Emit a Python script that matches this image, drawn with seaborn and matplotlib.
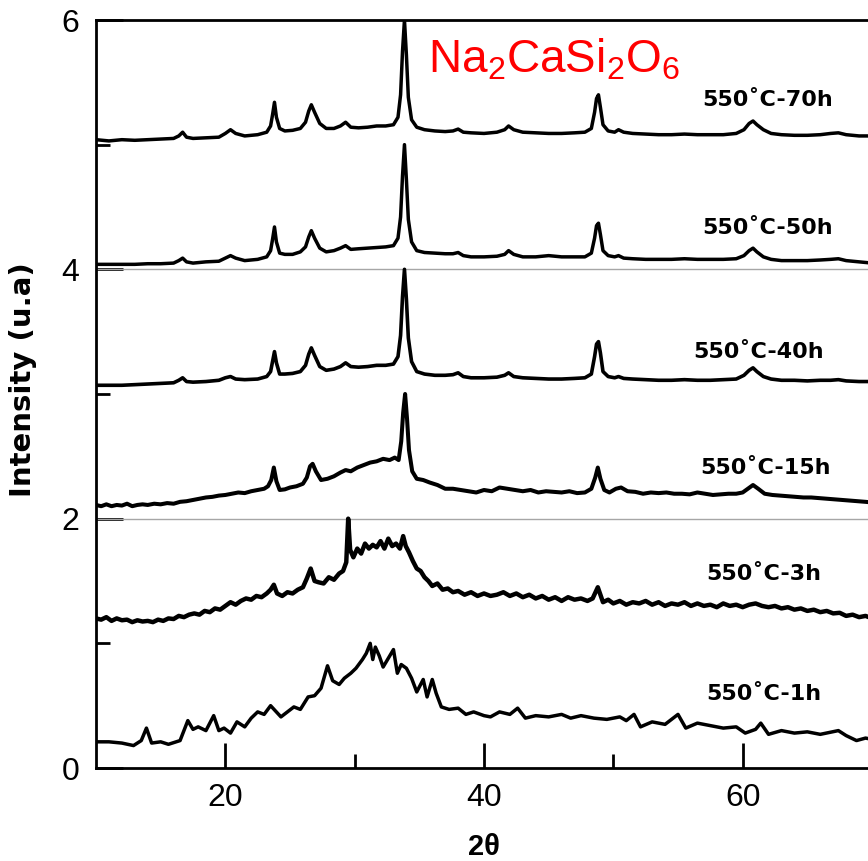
import numpy as np
import pandas as pd
import matplotlib
matplotlib.use("Agg")
import matplotlib.pyplot as plt
import seaborn as sns

# ---------------- data ----------------
samples = ["550˚C-70h", "550˚C-50h", "550˚C-40h", "550˚C-15h", "550˚C-3h", "550˚C-1h"]

# shared 2-theta grid for the three well-crystallised patterns
x_cryst = [10, 11, 12, 13, 14, 15, 16, 16.4, 16.7, 17.0,
           17.5, 18.5, 19.5, 20.0, 20.4, 20.8, 21.5, 22.5, 23.2, 23.5,
           23.65, 23.8, 23.95, 24.2, 24.6, 25.2, 25.8, 26.2, 26.45, 26.65,
           26.9, 27.3, 27.8, 28.4, 28.9, 29.3, 29.7, 30.3, 31.0, 31.7,
           32.4, 33.0, 33.35, 33.55, 33.7, 33.85, 34.0, 34.15, 34.4, 34.8,
           35.4, 36.2, 37.0, 37.6, 38.0, 38.4, 39.0, 40.0, 41.0, 41.6,
           41.9, 42.3, 43.0, 44.0, 45.0, 46.0, 47.0, 47.8, 48.3, 48.55,
           48.7, 48.85, 49.0, 49.2, 49.6, 50.1, 50.4, 50.8, 51.5, 52.5,
           53.5, 54.5, 55.5, 56.5, 57.5, 58.5, 59.5, 60.1, 60.5, 60.8,
           61.1, 61.6, 62.2, 63.0, 64.0, 65.0, 66.0, 66.8, 67.4, 68.0,
           69.0, 70.0]

y_70h = [5.04, 5.03, 5.04, 5.035, 5.04, 5.045, 5.05, 5.07, 5.10, 5.06,
         5.05, 5.055, 5.06, 5.09, 5.12, 5.09, 5.07, 5.08, 5.10, 5.15,
         5.24, 5.34, 5.22, 5.13, 5.11, 5.115, 5.13, 5.18, 5.27, 5.32,
         5.26, 5.17, 5.13, 5.13, 5.15, 5.18, 5.14, 5.135, 5.14, 5.15,
         5.15, 5.16, 5.22, 5.40, 5.75, 6.00, 5.72, 5.38, 5.20, 5.14,
         5.12, 5.11, 5.105, 5.11, 5.125, 5.10, 5.095, 5.09, 5.10, 5.12,
         5.15, 5.12, 5.10, 5.095, 5.09, 5.09, 5.095, 5.10, 5.13, 5.26,
         5.37, 5.40, 5.30, 5.16, 5.11, 5.10, 5.12, 5.10, 5.09, 5.085,
         5.08, 5.08, 5.085, 5.08, 5.08, 5.08, 5.09, 5.12, 5.17, 5.19,
         5.16, 5.12, 5.09, 5.08, 5.075, 5.075, 5.08, 5.09, 5.095, 5.08,
         5.07, 5.07]

y_50h = [4.04, 4.04, 4.04, 4.04, 4.045, 4.045, 4.05, 4.07, 4.09, 4.06,
         4.05, 4.06, 4.065, 4.09, 4.11, 4.09, 4.07, 4.08, 4.10, 4.15,
         4.24, 4.34, 4.22, 4.13, 4.12, 4.12, 4.14, 4.18, 4.26, 4.31,
         4.25, 4.17, 4.14, 4.15, 4.17, 4.19, 4.16, 4.165, 4.17, 4.175,
         4.18, 4.19, 4.25, 4.42, 4.75, 5.00, 4.72, 4.40, 4.22, 4.15,
         4.135, 4.13, 4.125, 4.125, 4.135, 4.11, 4.10, 4.10, 4.105, 4.12,
         4.15, 4.12, 4.10, 4.10, 4.11, 4.10, 4.10, 4.10, 4.13, 4.25,
         4.35, 4.37, 4.28, 4.15, 4.11, 4.10, 4.11, 4.09, 4.085, 4.08,
         4.08, 4.08, 4.085, 4.08, 4.08, 4.08, 4.085, 4.11, 4.15, 4.17,
         4.14, 4.10, 4.08, 4.07, 4.07, 4.07, 4.075, 4.08, 4.085, 4.07,
         4.06, 4.05]

y_40h = [3.07, 3.07, 3.07, 3.075, 3.08, 3.085, 3.09, 3.11, 3.13, 3.10,
         3.095, 3.10, 3.11, 3.13, 3.14, 3.12, 3.115, 3.12, 3.14, 3.18,
         3.26, 3.34, 3.25, 3.16, 3.16, 3.165, 3.18, 3.23, 3.32, 3.37,
         3.31, 3.22, 3.19, 3.20, 3.22, 3.25, 3.22, 3.215, 3.22, 3.23,
         3.23, 3.24, 3.30, 3.47, 3.78, 4.00, 3.76, 3.45, 3.26, 3.18,
         3.16, 3.15, 3.15, 3.155, 3.17, 3.14, 3.13, 3.13, 3.135, 3.15,
         3.17, 3.14, 3.13, 3.125, 3.12, 3.12, 3.125, 3.13, 3.16, 3.30,
         3.40, 3.42, 3.33, 3.18, 3.14, 3.13, 3.14, 3.125, 3.12, 3.115,
         3.11, 3.11, 3.115, 3.11, 3.11, 3.115, 3.12, 3.15, 3.19, 3.21,
         3.18, 3.14, 3.12, 3.11, 3.11, 3.105, 3.11, 3.11, 3.115, 3.105,
         3.10, 3.10]

x_15h = [10, 10.4, 10.8, 11.2, 11.6, 12, 12.4, 12.8, 13.2, 13.6,
         14, 14.5, 15, 15.5, 16, 16.5, 17, 17.5, 18, 18.5,
         19, 19.5, 20, 20.5, 21, 21.5, 22, 22.5, 23, 23.3,
         23.55, 23.75, 23.95, 24.2, 24.6, 25, 25.5, 26, 26.3, 26.55,
         26.75, 27, 27.4, 27.9, 28.4, 28.9, 29.3, 29.7, 30.2, 30.7,
         31.2, 31.7, 32.2, 32.7, 33.1, 33.4, 33.6, 33.75, 33.9, 34.05,
         34.2, 34.45, 34.8, 35.3, 35.8, 36.4, 37, 37.6, 38.2, 38.8,
         39.4, 40, 40.6, 41.2, 41.8, 42.4, 43, 43.6, 44.2, 44.8,
         45.4, 46, 46.6, 47.2, 47.8, 48.3, 48.6, 48.8, 49.0, 49.3,
         49.7, 50.2, 50.6, 51.1, 51.7, 52.3, 52.9, 53.5, 54.1, 54.7,
         55.3, 55.9, 56.5, 57.1, 57.7, 58.3, 58.9, 59.5, 60.0, 60.4,
         60.8, 61.2, 61.7, 62.3, 62.9, 63.5, 64.1, 64.7, 65.3, 65.9,
         66.5, 67.1, 67.7, 68.3, 68.9, 69.5, 70]
y_15h = [2.11, 2.10, 2.115, 2.10, 2.11, 2.105, 2.12, 2.10, 2.11, 2.115,
         2.11, 2.12, 2.115, 2.125, 2.12, 2.135, 2.14, 2.15, 2.16, 2.17,
         2.175, 2.185, 2.19, 2.20, 2.21, 2.205, 2.22, 2.23, 2.24, 2.26,
         2.31, 2.41, 2.30, 2.23, 2.235, 2.25, 2.26, 2.28, 2.33, 2.42,
         2.44, 2.38, 2.31, 2.32, 2.34, 2.37, 2.39, 2.38, 2.41, 2.43,
         2.45, 2.46, 2.48, 2.47, 2.49, 2.47, 2.62, 2.85, 3.00, 2.80,
         2.55, 2.38, 2.32, 2.31, 2.29, 2.27, 2.24, 2.24, 2.23, 2.22,
         2.21, 2.23, 2.22, 2.25, 2.24, 2.23, 2.22, 2.23, 2.21, 2.22,
         2.215, 2.21, 2.22, 2.205, 2.21, 2.24, 2.33, 2.41, 2.32, 2.23,
         2.21, 2.24, 2.25, 2.22, 2.215, 2.20, 2.21, 2.205, 2.21, 2.20,
         2.20, 2.195, 2.21, 2.20, 2.19, 2.195, 2.20, 2.20, 2.21, 2.24,
         2.27, 2.24, 2.20, 2.19, 2.185, 2.18, 2.175, 2.17, 2.17, 2.165,
         2.16, 2.155, 2.15, 2.145, 2.14, 2.135, 2.13]

x_3h = [10, 10.4, 10.8, 11.2, 11.6, 12, 12.4, 12.8, 13.2, 13.6,
        14, 14.4, 14.8, 15.2, 15.6, 16, 16.4, 16.8, 17.2, 17.6,
        18, 18.4, 18.8, 19.2, 19.6, 20, 20.4, 20.8, 21.2, 21.6,
        22, 22.4, 22.8, 23.2, 23.5, 23.75, 24.0, 24.4, 24.8, 25.2,
        25.6, 26.0, 26.3, 26.6, 26.9, 27.2, 27.6, 28.0, 28.4, 28.8,
        29.1, 29.35, 29.5, 29.65, 29.9, 30.2, 30.5, 30.8, 31.1, 31.4,
        31.7, 32.0, 32.3, 32.6, 32.9, 33.2, 33.5, 33.75, 33.95, 34.2,
        34.5, 34.8, 35.1, 35.4, 35.7, 36.0, 36.4, 36.8, 37.2, 37.6,
        38.0, 38.5, 39.0, 39.5, 40.0, 40.5, 41.0, 41.5, 42.0, 42.5,
        43.0, 43.5, 44.0, 44.5, 45.0, 45.5, 46.0, 46.5, 47.0, 47.5,
        48.0, 48.4, 48.8, 49.2, 49.6, 50.0, 50.5, 51.0, 51.5, 52.0,
        52.5, 53.0, 53.5, 54.0, 54.5, 55.0, 55.5, 56.0, 56.5, 57.0,
        57.5, 58.0, 58.5, 59.0, 59.5, 60.0, 60.5, 61.0, 61.5, 62.0,
        62.5, 63.0, 63.5, 64.0, 64.5, 65.0, 65.5, 66.0, 66.5, 67.0,
        67.5, 68.0, 68.5, 69.0, 69.5, 70.0]
y_3h = [1.20, 1.19, 1.21, 1.18, 1.20, 1.185, 1.19, 1.17, 1.185, 1.175,
        1.18, 1.17, 1.19, 1.18, 1.20, 1.195, 1.22, 1.21, 1.23, 1.24,
        1.23, 1.26, 1.25, 1.28, 1.27, 1.30, 1.33, 1.31, 1.34, 1.36,
        1.35, 1.38, 1.37, 1.40, 1.43, 1.47, 1.40, 1.38, 1.41, 1.40,
        1.43, 1.45, 1.52, 1.60, 1.50, 1.49, 1.48, 1.53, 1.51, 1.56,
        1.58, 1.65, 2.00, 1.75, 1.69, 1.76, 1.72, 1.80, 1.76, 1.79,
        1.77, 1.82, 1.76, 1.84, 1.78, 1.80, 1.76, 1.86, 1.78, 1.73,
        1.66, 1.60, 1.58, 1.53, 1.50, 1.46, 1.48, 1.43, 1.44, 1.41,
        1.42, 1.39, 1.41, 1.38, 1.40, 1.38, 1.39, 1.41, 1.38, 1.40,
        1.37, 1.39, 1.36, 1.38, 1.35, 1.37, 1.34, 1.37, 1.35, 1.36,
        1.34, 1.36, 1.45, 1.33, 1.35, 1.32, 1.34, 1.31, 1.33, 1.32,
        1.34, 1.31, 1.33, 1.30, 1.32, 1.31, 1.33, 1.30, 1.32, 1.30,
        1.31, 1.29, 1.32, 1.30, 1.31, 1.29, 1.31, 1.32, 1.30, 1.29,
        1.30, 1.28, 1.29, 1.27, 1.28, 1.26, 1.27, 1.25, 1.26, 1.24,
        1.245, 1.22, 1.23, 1.21, 1.22, 1.20]

x_1h = [10.0, 11.0, 12.0, 12.9, 13.5, 13.9, 14.3, 15.0, 15.6, 16.5, 17.1, 17.5, 17.9, 18.5, 19.1,
        19.5, 19.9, 20.4, 20.9, 21.5, 22.0, 22.5, 23.0, 23.5, 24.3, 24.8, 25.3, 25.8, 26.4, 26.9,
        27.4, 27.9, 28.3, 28.8, 29.2, 29.7, 30.1, 30.6, 30.9, 31.2, 31.4, 31.6, 31.9, 32.2, 32.6,
        33.0, 33.3, 33.6, 34.0, 34.4, 34.8, 35.3, 35.6, 36.0, 36.3, 36.7, 37.3, 38.0, 38.6, 39.2,
        40.0, 40.5, 41.2, 42.0, 42.6, 43.2, 44.0, 45.0, 46.0, 46.7, 47.5, 48.5, 49.5, 50.5, 51.0,
        51.6, 52.1, 53.0, 54.0, 55.0, 55.6, 56.5, 57.5, 58.5, 59.5, 60.2, 61.0, 61.4, 62.0, 63.0,
        64.0, 65.0, 66.0, 67.4, 68.0, 68.8, 69.5, 70.0]
y_1h = [0.21, 0.21, 0.20, 0.18, 0.22, 0.32, 0.20, 0.21, 0.19, 0.22, 0.38, 0.31, 0.33, 0.30, 0.42,
        0.30, 0.32, 0.28, 0.37, 0.33, 0.40, 0.45, 0.43, 0.50, 0.41, 0.45, 0.49, 0.47, 0.57, 0.58,
        0.64, 0.82, 0.70, 0.67, 0.72, 0.76, 0.80, 0.87, 0.92, 1.00, 0.87, 0.97, 0.90, 0.81, 0.88,
        0.95, 0.76, 0.83, 0.80, 0.72, 0.61, 0.71, 0.57, 0.71, 0.60, 0.49, 0.47, 0.48, 0.43, 0.45,
        0.42, 0.41, 0.45, 0.43, 0.48, 0.40, 0.42, 0.41, 0.43, 0.40, 0.42, 0.40, 0.39, 0.41, 0.38,
        0.43, 0.33, 0.37, 0.35, 0.43, 0.32, 0.36, 0.34, 0.32, 0.33, 0.28, 0.31, 0.36, 0.27, 0.30,
        0.28, 0.29, 0.27, 0.30, 0.26, 0.22, 0.24, 0.23]

label_x = [61.9, 61.9, 61.2, 61.8, 61.6, 61.6]
label_y = [5.36, 4.33, 3.34, 2.41, 1.56, 0.59]

x_ticks = [20, 40, 60]
y_ticks = [0, 2, 4, 6]
formula = "Na$_2$CaSi$_2$O$_6$"

# ---------------- build long table ----------------
series = [(x_cryst, y_70h), (x_cryst, y_50h), (x_cryst, y_40h),
          (x_15h, y_15h), (x_3h, y_3h), (x_1h, y_1h)]
frames = []
for name, (xs, ys) in zip(samples, series):
    frames.append(pd.DataFrame({"two_theta": xs, "intensity": ys, "sample": name}))
df = pd.concat(frames, ignore_index=True)

# ---------------- style ----------------
sns.set_style("white")
plt.rcParams["font.family"] = ["Liberation Sans", "DejaVu Sans"]
plt.rcParams["mathtext.fontset"] = "custom"
plt.rcParams["mathtext.rm"] = "Liberation Sans"
plt.rcParams["mathtext.it"] = "Liberation Sans:italic"
plt.rcParams["mathtext.bf"] = "Liberation Sans:bold"
plt.rcParams["text.color"] = "black"

fig = plt.figure(figsize=(8.68, 8.61), dpi=100)
ax = fig.add_axes([96 / 868, 93 / 861, 776 / 868, 748 / 861])

ax.axhline(2, color="#a6a6a6", lw=1.0, zorder=1)
ax.axhline(4, color="#a6a6a6", lw=1.0, zorder=1)

widths = {samples[0]: 2.5, samples[1]: 2.5, samples[2]: 2.6,
          samples[3]: 2.9, samples[4]: 3.2, samples[5]: 2.5}
sns.lineplot(data=df, x="two_theta", y="intensity", hue="sample", units="sample",
             size="sample", sizes=widths,
             estimator=None, sort=False, palette=["black"] * 6, legend=False,
             ax=ax, zorder=3)

ax.set_xlim(10, 70)
ax.set_ylim(0, 6)
ax.set_xticks(x_ticks)
ax.set_yticks(y_ticks)
ax.set_xticks([30, 50], minor=True)
ax.set_yticks([1, 3, 5], minor=True)
ax.tick_params(axis="both", which="both", bottom=True, left=True, top=False, right=False)
ax.tick_params(axis="x", which="major", direction="in", length=18, width=2.0,
               labelsize=23, color="black", labelcolor="black", pad=11)
ax.tick_params(axis="y", which="major", direction="in", length=19.5, width=2.0,
               labelsize=23, color="black", labelcolor="black", pad=12)
ax.tick_params(axis="both", which="minor", direction="in", length=10, width=2.0, color="black")

for side in ["left", "bottom", "top"]:
    ax.spines[side].set_linewidth(2.0)
    ax.spines[side].set_color("black")
ax.spines["right"].set_visible(False)

ax.set_xlabel("2θ", fontsize=21, fontweight="bold", labelpad=14, color="black")
ax.set_ylabel("Intensity (u.a)", fontsize=21, fontweight="bold",
              family=["DejaVu Sans"], color="black")
ax.yaxis.set_label_coords(-0.076, 0.519)

for name, lx, ly in zip(samples, label_x, label_y):
    ax.text(lx, ly, name, fontsize=16, fontweight="bold", ha="center", va="center",
            family=["DejaVu Sans"], color="black", zorder=4)

ax.text(35.7, 5.58, formula, fontsize=33, color="#ff0000", ha="left", va="baseline", zorder=4)

fig.savefig("out.png", dpi=100, facecolor="white")
